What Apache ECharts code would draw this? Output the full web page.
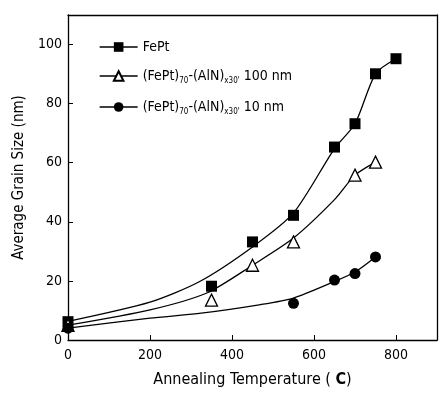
<!DOCTYPE html>
<html><head><meta charset="utf-8">
<script src="https://cdn.jsdelivr.net/npm/echarts@6/dist/echarts.min.js"></script>
<style>html,body{margin:0;padding:0;background:#fff}#c{width:440px;height:395px}</style>
</head><body><div id="c"></div>
<script>
const FONT = '"DejaVu Sans Condensed","Liberation Sans Narrow","Arial Narrow",sans-serif';
const xTicks = [0, 200, 400, 600, 800];
const yTicks = [0, 20, 40, 60, 80, 100];
const names = ['FePt', "(FePt){s|70}-(AlN){s|x30'} 100 nm", "(FePt){s|70}-(AlN){s|x30'} 10 nm"];
// measured points [temperature, grain size]
const fePtPts = [[0,6.2],[350,18.2],[450,33.2],[550,42.2],[650,65.3],[700,73.2],[750,90.1],[800,95.2]];
const aln100Pts = [[0,5],[350,13.5],[450,25.3],[550,33.2],[700,55.8],[750,60.2]];
const aln10Pts = [[0,4],[550,12.4],[650,20.3],[700,22.5],[750,28.1]];
// fitted curves
const fePtFit = [[0,6.3],[200,12.8],[320,19.7],[450,31.5],[550,43],[650,64.8],[700,73.2],[750,90.1],[800,95.2]];
const aln100Fit = [[0,5],[200,10.2],[340,16],[450,25.3],[550,34.5],[650,47.5],[700,55.8],[750,60.2]];
const aln10Fit = [[0,4],[200,7.4],[320,9],[470,12],[550,14.2],[650,19.8],[700,23],[750,28.1]];

const rich = { s: { fontSize: 8, fontFamily: FONT, color: '#000', verticalAlign: 'bottom', padding: [10,0,0,0] } };
const chart = echarts.init(document.getElementById('c'), null, {renderer: 'canvas'});
const ptSeries = (name, data, symbol, size, filled) => ({
  name, type: 'line', data, symbol, symbolSize: size, showSymbol: true,
  lineStyle: { opacity: 0 }, z: 5,
  itemStyle: filled ? { color: '#000' } : { color: '#fff', borderColor: '#000', borderWidth: 1.3 }
});
const fitSeries = (data) => ({
  type: 'line', data, smooth: 0.25, symbol: 'none', silent: true,
  lineStyle: { color: '#000', width: 1.3 }
});
chart.setOption({
  animation: false,
  backgroundColor: '#fff',
  grid: { left: 68, right: 2, top: 15, bottom: 55, show: false },
  legend: {
    data: names, left: 94, top: 35, orient: 'vertical', itemGap: 15,
    itemWidth: 38, itemHeight: 12,
    lineStyle: { opacity: 1, width: 1.3, color: '#000' },
    textStyle: { fontFamily: FONT, fontSize: 14, color: '#000', rich },
    formatter: n => n
  },
  xAxis: [{
    type: 'value', min: 0, max: 900, interval: 200,
    axisLine: { show: true, lineStyle: { color: '#000', width: 1.3 } },
    axisTick: { show: true, inside: true, length: 5, lineStyle: { color: '#000' } },
    axisLabel: { fontFamily: FONT, fontSize: 14, color: '#000', margin: 8,
      formatter: v => xTicks.includes(v) ? String(v) : '' },
    splitLine: { show: false },
    name: 'Annealing Temperature ( {b|C})', nameLocation: 'middle', nameGap: 32,
    nameTextStyle: { fontFamily: FONT, fontSize: 16, color: '#000', rich: { b: { fontFamily: FONT, fontSize: 16, fontWeight: 'bold', color: '#000' } } }
  }, {
    type: 'value', min: 0, max: 900, position: 'top',
    axisLine: { show: true, onZero: false, lineStyle: { color: '#000', width: 1.3 } },
    axisTick: { show: false }, axisLabel: { show: false }, splitLine: { show: false }
  }],
  yAxis: [{
    type: 'value', min: 0, max: 110, interval: 20,
    axisLine: { show: true, lineStyle: { color: '#000', width: 1.3 } },
    axisTick: { show: true, inside: true, length: 5, lineStyle: { color: '#000' } },
    axisLabel: { fontFamily: FONT, fontSize: 14, color: '#000', margin: 6,
      formatter: v => yTicks.includes(v) ? String(v) : '' },
    splitLine: { show: false },
    name: 'Average Grain Size (nm)', nameLocation: 'middle', nameGap: 37,
    nameTextStyle: { fontFamily: FONT, fontSize: 15, color: '#000' }
  }, {
    type: 'value', min: 0, max: 110, position: 'right',
    axisLine: { show: true, onZero: false, lineStyle: { color: '#000', width: 1.3 } },
    axisTick: { show: false }, axisLabel: { show: false }, splitLine: { show: false }
  }],
  series: [
    fitSeries(fePtFit), fitSeries(aln100Fit), fitSeries(aln10Fit),
    ptSeries(names[0], fePtPts, 'rect', 11, true),
    ptSeries(names[1], aln100Pts, 'triangle', 12, false),
    ptSeries(names[2], aln10Pts, 'circle', 11, true)
  ]
});
</script></body></html>
